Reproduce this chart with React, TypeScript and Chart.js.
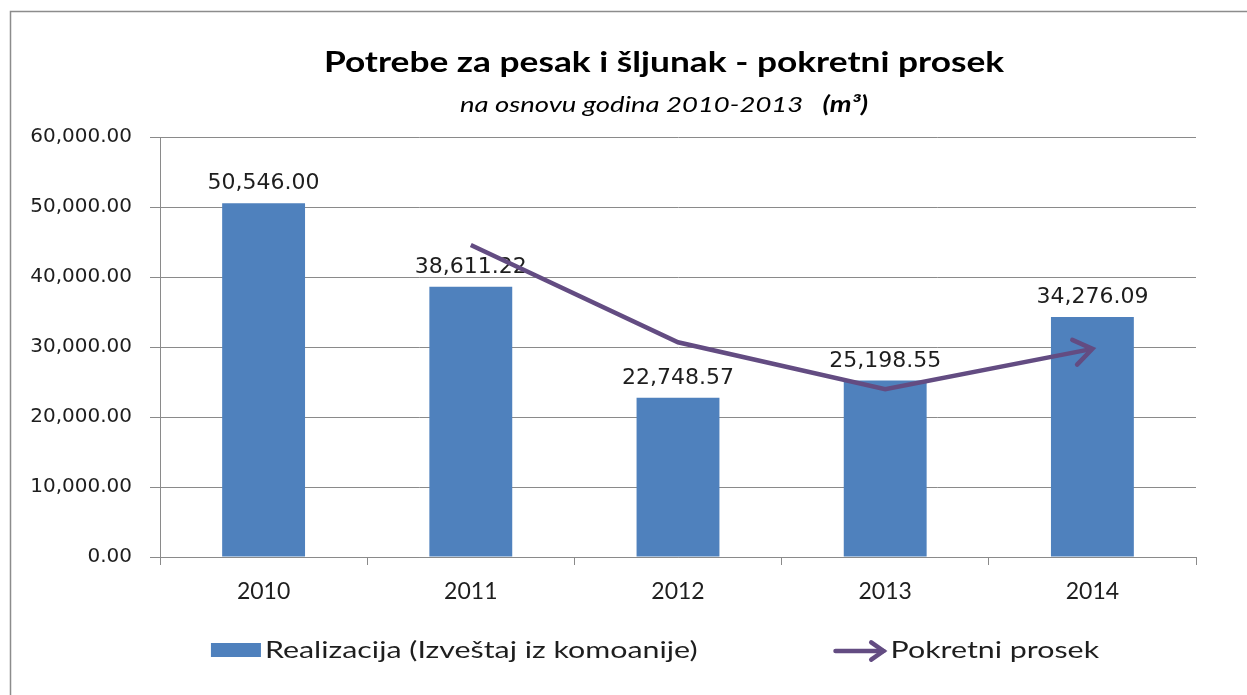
import React, { useEffect, useRef } from 'react';
import { Chart, registerables } from 'chart.js';

Chart.register(...registerables);

const categories = ['2010', '2011', '2012', '2013', '2014'];
const realizacija = [50546.0, 38611.22, 22748.57, 25198.55, 34276.09];
const pokretniProsek = [null, 44578.61, 30679.9, 23973.56, 29737.32];
const yTicks = [0, 10000, 20000, 30000, 40000, 50000, 60000];
const titleText = 'Potrebe za pesak i šljunak - pokretni prosek';
const subtitleText = 'na osnovu godina 2010-2013   ';
const subtitleUnit = '(m³)';
const legendLabels = ['Realizacija (Izveštaj iz komoanije)', 'Pokretni prosek'];

const BAR_COLOR = '#4F81BD';
const LINE_COLOR = '#634C82';
const GRID = '#8a8a8a';
const TEXT = '#1e1e1e';
const NUM_FONT = '"DejaVu Sans", Verdana, sans-serif';
const CAL_FONT = 'Lato, "Open Sans", sans-serif';

const fmt = new Intl.NumberFormat('en-US', { minimumFractionDigits: 2, maximumFractionDigits: 2 });

function drawChevron(ctx: CanvasRenderingContext2D, x: number, y: number, angle: number, len: number) {
  const spread = (35 * Math.PI) / 180;
  ctx.beginPath();
  ctx.moveTo(x + Math.cos(angle + Math.PI - spread) * len, y + Math.sin(angle + Math.PI - spread) * len);
  ctx.lineTo(x, y);
  ctx.lineTo(x + Math.cos(angle + Math.PI + spread) * len, y + Math.sin(angle + Math.PI + spread) * len);
  ctx.stroke();
}

function fillScaled(ctx: CanvasRenderingContext2D, text: string, x: number, y: number, sx: number) {
  ctx.save();
  ctx.translate(x, y);
  ctx.scale(sx, 1);
  ctx.fillText(text, 0, 0);
  ctx.restore();
}

const framePlugin = {
  id: 'frame',
  beforeDraw(chart: any) {
    const ctx = chart.ctx;
    ctx.save();
    ctx.fillStyle = '#ffffff';
    ctx.fillRect(0, 0, chart.width, chart.height);
    ctx.strokeStyle = '#8c8c8c';
    ctx.lineWidth = 1.5;
    ctx.strokeRect(10.5, 11.5, chart.width + 40, chart.height + 40);
    ctx.restore();
  },
};

const titlePlugin = {
  id: 'titles',
  afterDraw(chart: any) {
    const ctx = chart.ctx;
    const cx = 664;
    ctx.save();
    ctx.fillStyle = '#000000';
    ctx.textBaseline = 'alphabetic';
    ctx.textAlign = 'center';
    ctx.font = `bold 28px ${CAL_FONT}`;
    fillScaled(ctx, titleText, cx, 72, 1.26);
    const sx = 1.25;
    ctx.font = `italic 22px ${CAL_FONT}`;
    const w1 = ctx.measureText(subtitleText).width * sx;
    ctx.font = `italic bold 22px ${CAL_FONT}`;
    const w2 = ctx.measureText(subtitleUnit).width * sx;
    const start = cx - (w1 + w2) / 2;
    ctx.textAlign = 'left';
    ctx.font = `italic 22px ${CAL_FONT}`;
    fillScaled(ctx, subtitleText, start, 112, sx);
    ctx.font = `italic bold 22px ${CAL_FONT}`;
    fillScaled(ctx, subtitleUnit, start + w1, 112, sx);
    ctx.restore();
  },
};

const labelPlugin = {
  id: 'barLabels',
  afterDatasetDraw(chart: any, args: any) {
    if (args.index !== 0) return;
    const ctx = chart.ctx;
    const meta = chart.getDatasetMeta(0);
    ctx.save();
    ctx.font = `22px ${NUM_FONT}`;
    ctx.fillStyle = TEXT;
    ctx.textAlign = 'center';
    ctx.textBaseline = 'alphabetic';
    meta.data.forEach((bar: any, i: number) => {
      ctx.fillText(fmt.format(realizacija[i]), bar.x, bar.y - 14);
    });
    ctx.restore();
  },
};

const arrowPlugin = {
  id: 'lineArrow',
  afterDatasetDraw(chart: any, args: any) {
    if (args.index !== 1) return;
    const meta = chart.getDatasetMeta(1);
    const pts = meta.data;
    const last = pts[pts.length - 1];
    const prev = pts[pts.length - 2];
    const angle = Math.atan2(last.y - prev.y, last.x - prev.x);
    const ctx = chart.ctx;
    ctx.save();
    ctx.strokeStyle = LINE_COLOR;
    ctx.lineWidth = 4.5;
    ctx.lineCap = 'round';
    ctx.lineJoin = 'miter';
    drawChevron(ctx, last.x, last.y, angle, 22);
    ctx.restore();
  },
};

const legendPlugin = {
  id: 'customLegend',
  afterDraw(chart: any) {
    const ctx = chart.ctx;
    const sx = 1.32;
    ctx.save();
    ctx.font = `23px ${CAL_FONT}`;
    const t1 = ctx.measureText(legendLabels[0]).width * sx;
    const t2 = ctx.measureText(legendLabels[1]).width * sx;
    const w1 = 50 + 4 + t1;
    const w2 = 52 + 5 + t2;
    const gap = 136;
    const center = 655;
    let x = center - (w1 + gap + w2) / 2;
    const cy = 650;
    ctx.fillStyle = BAR_COLOR;
    ctx.fillRect(x, cy - 7, 50, 14);
    ctx.fillStyle = TEXT;
    ctx.textBaseline = 'alphabetic';
    ctx.textAlign = 'left';
    fillScaled(ctx, legendLabels[0], x + 54, 658, sx);
    x += w1 + gap;
    ctx.strokeStyle = LINE_COLOR;
    ctx.lineWidth = 4.5;
    ctx.lineCap = 'round';
    ctx.beginPath();
    ctx.moveTo(x + 2, cy + 1);
    ctx.lineTo(x + 50, cy + 1);
    ctx.stroke();
    drawChevron(ctx, x + 50, cy + 1, 0, 15);
    ctx.fillStyle = TEXT;
    fillScaled(ctx, legendLabels[1], x + 57, 658, sx);
    ctx.restore();
  },
};

export default function App() {
  const canvasRef = useRef<HTMLCanvasElement | null>(null);

  useEffect(() => {
    if (!canvasRef.current) return;
    const chart = new Chart(canvasRef.current, {
      type: 'bar',
      data: {
        labels: categories,
        datasets: [
          {
            type: 'bar',
            label: legendLabels[0],
            data: realizacija,
            backgroundColor: BAR_COLOR,
            borderWidth: 0,
            categoryPercentage: 1,
            barPercentage: 0.4,
            order: 2,
          },
          {
            type: 'line',
            label: legendLabels[1],
            data: pokretniProsek as any,
            borderColor: LINE_COLOR,
            backgroundColor: LINE_COLOR,
            borderWidth: 4.5,
            pointRadius: 0,
            pointHoverRadius: 0,
            tension: 0,
            fill: false,
            borderJoinStyle: 'miter',
            borderCapStyle: 'butt',
            order: 1,
          },
        ],
      },
      options: {
        responsive: false,
        animation: false,
        devicePixelRatio: 1,
        layout: { padding: { left: 10, right: 51, top: 137, bottom: 78 } },
        plugins: {
          legend: { display: false },
          title: { display: false },
          tooltip: { enabled: false },
        },
        scales: {
          x: {
            offset: true,
            grid: {
              display: true,
              drawOnChartArea: false,
              drawTicks: true,
              tickLength: 8,
              offset: true,
              color: GRID,
              lineWidth: 1,
            },
            border: { display: true, color: GRID, width: 1 },
            ticks: {
              font: { family: CAL_FONT, size: 23 },
              color: TEXT,
              padding: 13,
              maxRotation: 0,
              autoSkip: false,
            },
            afterFit: (s: any) => {
              s.height = 60;
            },
          },
          y: {
            min: 0,
            max: 60000,
            afterBuildTicks: (s: any) => {
              s.ticks = yTicks.map((v) => ({ value: v }));
            },
            ticks: {
              font: { family: NUM_FONT, size: 20 },
              color: TEXT,
              padding: 18,
              callback: (v: any) => fmt.format(Number(v)),
            },
            grid: { color: GRID, tickLength: 10, lineWidth: 1 },
            border: { display: true, color: GRID, width: 1 },
            afterFit: (s: any) => {
              s.width = 150;
            },
          },
        },
      },
      plugins: [framePlugin, labelPlugin, arrowPlugin, titlePlugin, legendPlugin],
    });
    return () => chart.destroy();
  }, []);

  return (
    <div style={{ position: 'absolute', left: 0, top: 0, width: 1247, height: 695, overflow: 'hidden', background: '#fff' }}>
      <canvas ref={canvasRef} width={1247} height={695} style={{ display: 'block', width: 1247, height: 695 }} />
    </div>
  );
}
